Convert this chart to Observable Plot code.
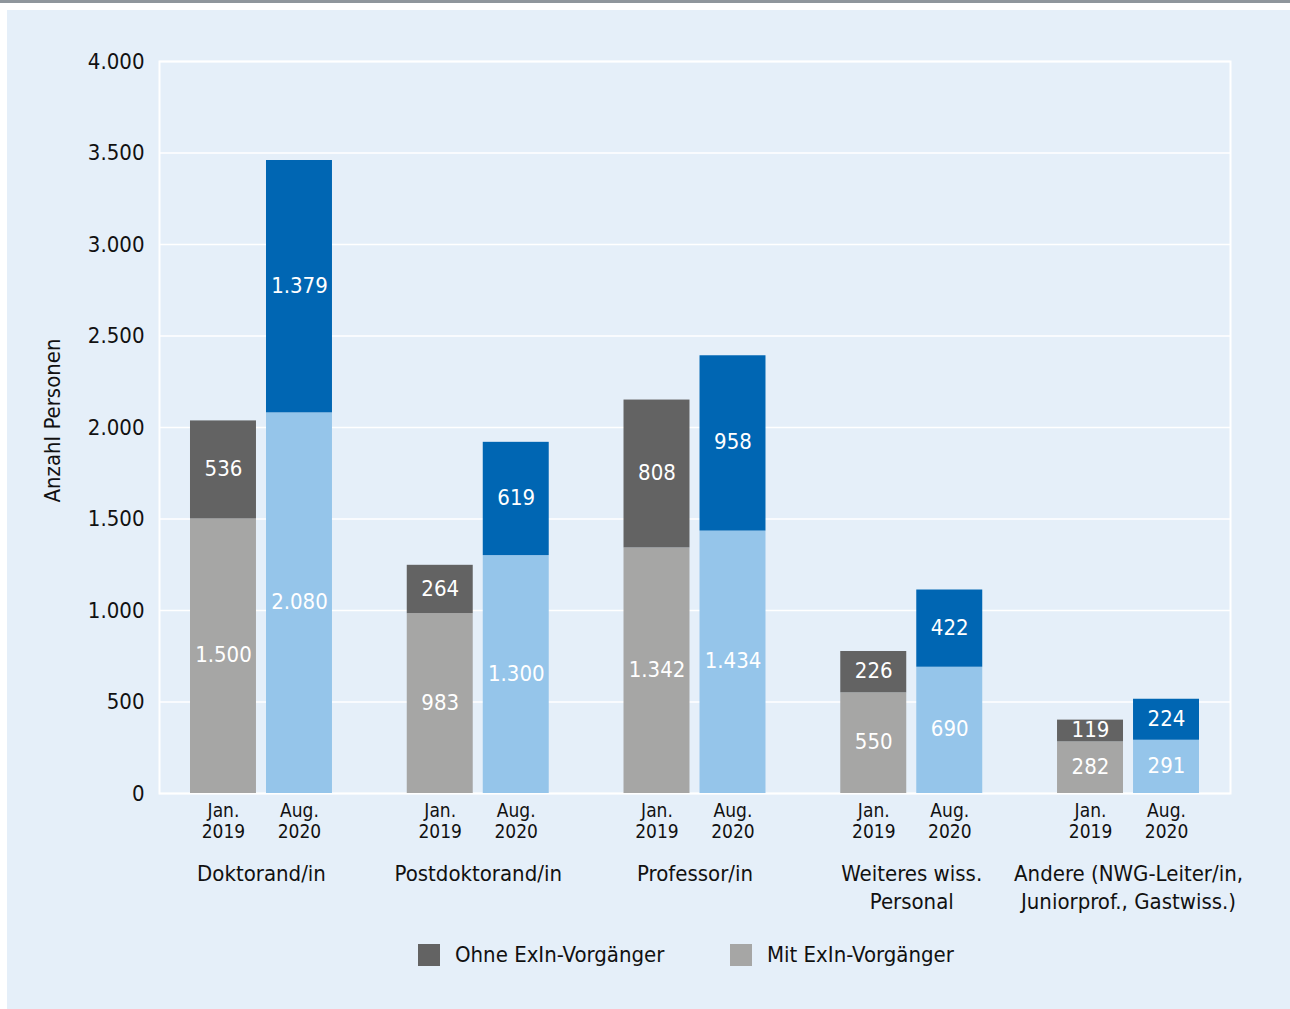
<!DOCTYPE html>
<html><head><meta charset="utf-8">
<script src="https://cdn.jsdelivr.net/npm/d3@7"></script>
<script src="https://cdn.jsdelivr.net/npm/@observablehq/plot@0.6"></script>
<style>
html,body{margin:0;padding:0;background:#fff;}
body{width:1290px;height:1009px;overflow:hidden;position:relative;font-family:"DejaVu Sans Condensed","Liberation Sans Narrow",sans-serif;}
#topbar{position:absolute;left:0;top:0;width:1290px;height:3px;background:#8f969c;}
#box{position:absolute;left:7px;top:10px;width:1283px;height:999px;background:#e5eff9;}
#chart svg{display:block;}
.leg{position:absolute;top:932px;display:flex;align-items:center;font-size:22px;color:#111;}
.sw{width:22px;height:22px;margin-right:15px;}
</style>
</head><body>
<div id="topbar"></div>
<div id="box">
  <div id="chart"></div>
  <div class="leg" style="left:411px"><div class="sw" id="sw1"></div><span id="lt1"></span></div>
  <div class="leg" style="left:723px"><div class="sw" id="sw2"></div><span id="lt2"></span></div>
</div>
<script>
const groups = ["Doktorand/in","Postdoktorand/in","Professor/in","Weiteres wiss.\nPersonal","Andere (NWG-Leiter/in,\nJuniorprof., Gastwiss.)"];
const periods = ["Jan.\n2019","Aug.\n2020"];
const seriesNames = ["Ohne ExIn-Vorgänger","Mit ExIn-Vorgänger"];
const mitJan = [1500, 983, 1342, 550, 282];
const ohneJan = [536, 264, 808, 226, 119];
const mitAug = [2080, 1300, 1434, 690, 291];
const ohneAug = [1379, 619, 958, 422, 224];
const yTicks = [0, 500, 1000, 1500, 2000, 2500, 3000, 3500, 4000];
const colorKeys = ["jan-ohne","jan-mit","aug-ohne","aug-mit"];
const colorRange = ["#636363","#a6a6a5","#0066b3","#95c5ea"];

const loc = d3.formatLocale({decimal:",", thousands:".", grouping:[3], currency:["","€"]});
const fmt = loc.format(",d");

const janRows = [], augRows = [];
groups.forEach((g, i) => {
  janRows.push({group:g, key:"jan-mit", value:mitJan[i]});
  janRows.push({group:g, key:"jan-ohne", value:ohneJan[i]});
  augRows.push({group:g, key:"aug-mit", value:mitAug[i]});
  augRows.push({group:g, key:"aug-ohne", value:ohneAug[i]});
});

const font = '"DejaVu Sans Condensed","Liberation Sans Narrow",sans-serif';
const off = 38;

const chart = Plot.plot({
  width: 1283,
  height: 920,
  marginLeft: 152,
  marginRight: 60,
  marginTop: 51,
  marginBottom: 137,
  style: {fontFamily: font, background: "transparent", color: "#111"},
  x: {domain: groups, paddingInner: 0.345, paddingOuter: 0.143, round: false, axis: null},
  y: {domain: [0, 4000], axis: null},
  color: {domain: colorKeys, range: colorRange},
  marks: [
    Plot.gridY(yTicks, {stroke: "white", strokeOpacity: 1, strokeWidth: 1.5}),
    Plot.frame({stroke: "white", strokeWidth: 2}),
    Plot.barY(janRows, Plot.stackY({x: "group", y: "value", fill: "key", insetRight: 2 * off})),
    Plot.barY(augRows, Plot.stackY({x: "group", y: "value", fill: "key", insetLeft: 2 * off})),
    Plot.text(janRows, Plot.stackY({x: "group", y: "value", text: d => fmt(d.value), dx: -off, dy: -1, fill: "white", fontSize: 22})),
    Plot.text(augRows, Plot.stackY({x: "group", y: "value", text: d => fmt(d.value), dx: off, dy: -1, fill: "white", fontSize: 22})),
    Plot.axisY(yTicks, {tickSize: 0, tickPadding: 15, tickFormat: fmt, fontSize: 22, label: null, fill: "#111"}),
    Plot.text(groups, {x: d => d, text: () => periods[0], frameAnchor: "bottom", lineAnchor: "top", dx: -off, dy: 9, fontSize: 19, lineHeight: 1.08, fill: "#111"}),
    Plot.text(groups, {x: d => d, text: () => periods[1], frameAnchor: "bottom", lineAnchor: "top", dx: off, dy: 9, fontSize: 19, lineHeight: 1.08, fill: "#111"}),
    Plot.text(groups, {x: d => d, text: d => d, frameAnchor: "bottom", lineAnchor: "top", dy: 68, fontSize: 22, lineHeight: 1.25, fill: "#111"}),
    Plot.text(["Anzahl Personen"], {text: d => d, frameAnchor: "left", textAnchor: "middle", rotate: -90, dx: -107, dy: -7, fontSize: 22, fill: "#111"})
  ]
});
document.getElementById("chart").appendChild(chart);
document.getElementById("sw1").style.background = colorRange[0];
document.getElementById("sw2").style.background = colorRange[1];
document.getElementById("lt1").textContent = seriesNames[0];
document.getElementById("lt2").textContent = seriesNames[1];
</script>
</body></html>
